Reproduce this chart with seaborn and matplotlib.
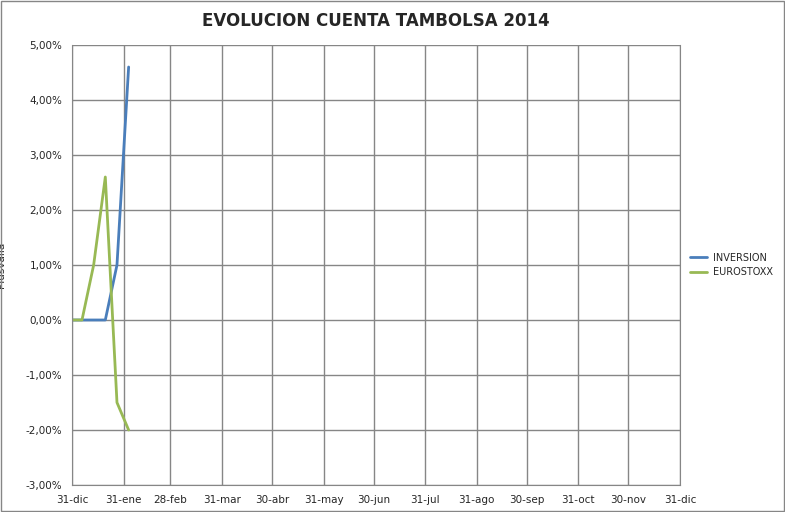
import matplotlib
matplotlib.use("Agg")
import matplotlib.pyplot as plt
import matplotlib.dates as mdates
import seaborn as sns
import pandas as pd
from matplotlib.ticker import FuncFormatter, FixedLocator

dates = ["2013-12-31", "2014-01-06", "2014-01-13", "2014-01-20", "2014-01-27", "2014-02-03"]
inversion = [0.0, 0.0, 0.0, 0.0, 1.0, 4.6]
eurostoxx = [0.0, 0.0, 1.0, 2.6, -1.5, -2.0]
tick_dates = ["2013-12-31", "2014-01-31", "2014-02-28", "2014-03-31", "2014-04-30", "2014-05-31",
              "2014-06-30", "2014-07-31", "2014-08-31", "2014-09-30", "2014-10-31", "2014-11-30", "2014-12-31"]
tick_labels = ["31-dic", "31-ene", "28-feb", "31-mar", "30-abr", "31-may", "30-jun",
               "31-jul", "31-ago", "30-sep", "31-oct", "30-nov", "31-dic"]

df = pd.DataFrame({"fecha": pd.to_datetime(dates * 2),
                   "valor": inversion + eurostoxx,
                   "serie": ["INVERSION"] * len(dates) + ["EUROSTOXX"] * len(dates)})

sns.set_style("white")
plt.rcParams['font.family'] = ['DejaVu Sans']
fig = plt.figure(figsize=(7.85, 5.12), dpi=100)
ax = fig.add_axes([72/785, 27/512, 608/785, 440/512])
sns.lineplot(data=df, x="fecha", y="valor", hue="serie", palette=["#4a7ebb", "#98b954"],
             linewidth=2, ax=ax, legend=True)
tds = pd.to_datetime(tick_dates)
ax.set_xlim(tds[0], tds[-1])
ax.xaxis.set_major_locator(FixedLocator(mdates.date2num(tds)))
ax.set_xticklabels(tick_labels, fontsize=7.5)
ax.set_ylim(-3, 5)
ax.set_yticks(range(-3, 6))
ax.yaxis.set_major_formatter(FuncFormatter(lambda v, p: f"{v:.2f}%".replace(".", ",")))
ax.tick_params(axis="y", labelsize=7.5)
ax.grid(True, color="#868686", linewidth=1)
ax.spines["top"].set_visible(False)
for s in ["left", "bottom", "right"]:
    ax.spines[s].set_color("#868686")
ax.set_xlabel("")
ax.set_ylabel("Plusvalía", fontsize=7.5, labelpad=14)
ax.set_title("EVOLUCION CUENTA TAMBOLSA 2014", fontsize=12, fontweight="bold", pad=14)
h, l = ax.get_legend_handles_labels()
ax.legend(h, l, loc="center left", bbox_to_anchor=(1.01, 0.5), frameon=False, fontsize=7,
          handlelength=1.8, handletextpad=0.6, borderaxespad=0)
fig.patches.append(plt.Rectangle((0.001, 0.001), 0.998, 0.998, transform=fig.transFigure,
                                 fill=False, edgecolor="#868686", linewidth=1))
fig.savefig("out.png", dpi=100)
